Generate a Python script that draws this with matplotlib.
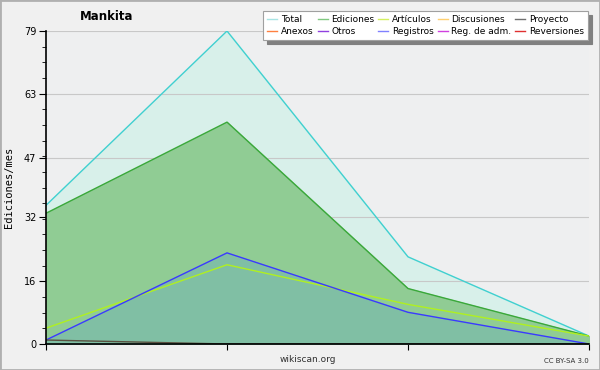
import matplotlib
matplotlib.use("Agg")
import matplotlib.pyplot as plt
from matplotlib.lines import Line2D
import numpy as np

months = [0, 1, 2, 3]
total = [35, 79, 22, 2]
ediciones = [33, 56, 14, 2]
articulos = [4, 20, 10, 2]
registros = [1, 23, 8, 0]
proyecto = [1, 0, 0, 0]

legend_labels = ["Total", "Ediciones", "Artículos", "Discusiones", "Proyecto",
                 "Anexos", "Otros", "Registros", "Reg. de adm.", "Reversiones"]
legend_colors = ["#a8e4e4", "#80c880", "#d4f060", "#ffd070", "#707070",
                 "#ff8040", "#9040e0", "#8080ff", "#d040e0", "#e03030"]

yticks = [0, 16, 32, 47, 63, 79]
ymax = 79

fig = plt.figure(figsize=(6, 3.7), dpi=100, facecolor="#f0f0f0")
fig.patches.append(plt.Rectangle((0, 0), 1, 1, transform=fig.transFigure,
                                 fill=False, edgecolor="#b0b0b0", linewidth=2))
ax = fig.add_axes([46/600, 26/370, 543/600, 313/370])
ax.set_facecolor("#eeeff0")

ax.fill_between(months, total, color="#d8f0ea", zorder=1)
ax.plot(months, total, color="#40d0d0", lw=1, zorder=5)
ax.fill_between(months, ediciones, color="#90cc94", zorder=2)
ax.plot(months, ediciones, color="#3aa83a", lw=1, zorder=5)
ax.fill_between(months, registros, color="#80bfa4", zorder=3)
ax.plot(months, articulos, color="#b0f020", lw=1, zorder=6)
ax.plot(months, registros, color="#3a3aff", lw=1, zorder=7)
ax.plot(months, proyecto, color="#5a5040", lw=1, zorder=8)

ax.set_xlim(0, 3)
ax.set_ylim(0, ymax)
ax.set_yticks(yticks)
ax.set_yticks(np.arange(0, ymax + 0.01, ymax / 20), minor=True)
ax.set_xticks(months)
ax.set_xticklabels([])
ax.grid(axis="y", which="major", color="#c8c8c8", lw=0.8, zorder=4)
for s in ["top", "right"]:
    ax.spines[s].set_visible(False)
ax.spines["left"].set_linewidth(1.2)
ax.spines["bottom"].set_linewidth(1.2)
ax.spines["left"].set_zorder(10)
ax.spines["bottom"].set_zorder(10)
ax.tick_params(axis="y", which="major", length=5, labelsize=7, colors="black", pad=2)
ax.tick_params(axis="y", which="minor", length=3)
ax.tick_params(axis="x", length=4)
ax.set_ylabel("Ediciones/mes", fontsize=7.5, family="DejaVu Sans Mono", labelpad=7)

fig.text(107/600, 1 - 17/370, "Mankita", fontsize=8.5, fontweight="bold", ha="center", va="center")
fig.text(308/600, 1 - 360/370, "wikiscan.org", fontsize=6.5, ha="center", va="center", color="#303030")
fig.text(589/600, 1 - 361/370, "CC BY-SA 3.0", fontsize=5, ha="right", va="center", color="#303030")

handles = [Line2D([0], [0], color=c, lw=1) for c in legend_colors]
order = []
lab_order = []
for i in range(5):
    order += [handles[i], handles[i + 5]]
    lab_order += [legend_labels[i], legend_labels[i + 5]]
leg = fig.legend(order, lab_order, ncol=5, loc="upper right",
                 bbox_to_anchor=(588/600, 1 - 11/370), fontsize=6.5, frameon=True,
                 fancybox=False, shadow={"color": "#808080", "alpha": 1, "ox": 3, "oy": -3},
                 handlelength=1.1, handletextpad=0.4, columnspacing=0.45,
                 labelspacing=0.35, borderpad=0.45, borderaxespad=0)
leg.get_frame().set_edgecolor("#a0a0a0")
leg.get_frame().set_linewidth(0.8)

fig.savefig("out.png", dpi=100, facecolor=fig.get_facecolor())
